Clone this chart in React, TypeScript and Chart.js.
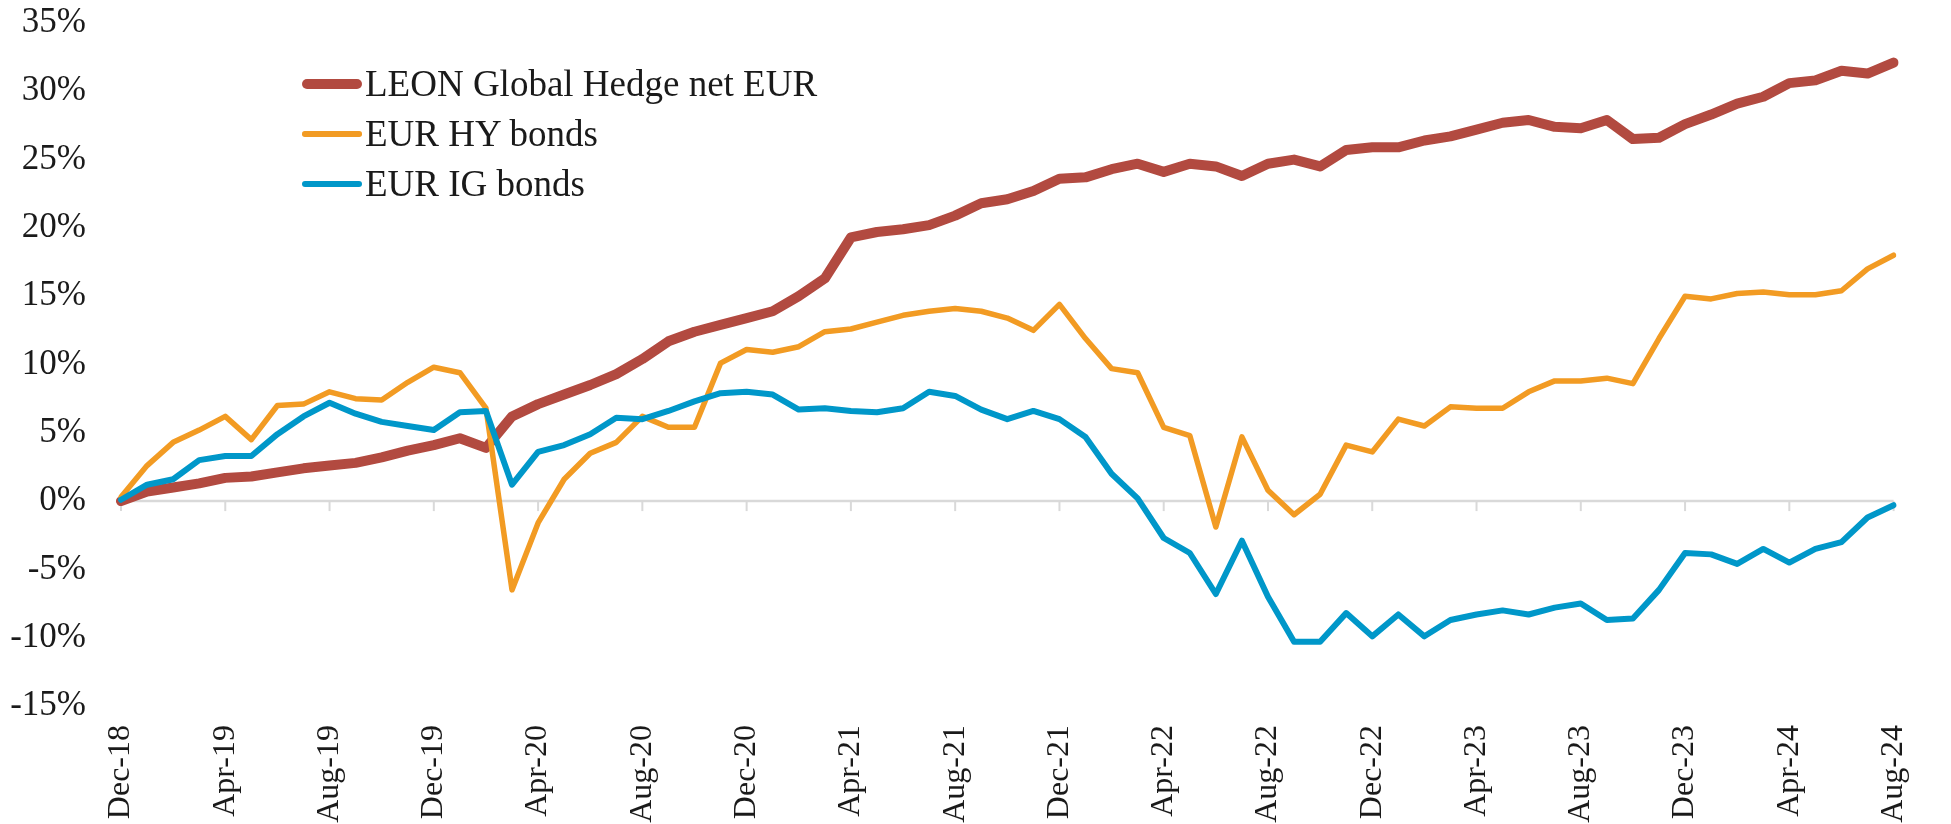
import React, { useEffect, useRef } from "react";
import { Chart, registerables } from "chart.js";

Chart.register(...registerables);

const months: string[] = [
  "Dec-18",
  "Jan-19", "Feb-19", "Mar-19", "Apr-19", "May-19", "Jun-19", "Jul-19", "Aug-19", "Sep-19", "Oct-19", "Nov-19", "Dec-19",
  "Jan-20", "Feb-20", "Mar-20", "Apr-20", "May-20", "Jun-20", "Jul-20", "Aug-20", "Sep-20", "Oct-20", "Nov-20", "Dec-20",
  "Jan-21", "Feb-21", "Mar-21", "Apr-21", "May-21", "Jun-21", "Jul-21", "Aug-21", "Sep-21", "Oct-21", "Nov-21", "Dec-21",
  "Jan-22", "Feb-22", "Mar-22", "Apr-22", "May-22", "Jun-22", "Jul-22", "Aug-22", "Sep-22", "Oct-22", "Nov-22", "Dec-22",
  "Jan-23", "Feb-23", "Mar-23", "Apr-23", "May-23", "Jun-23", "Jul-23", "Aug-23", "Sep-23", "Oct-23", "Nov-23", "Dec-23",
  "Jan-24", "Feb-24", "Mar-24", "Apr-24", "May-24", "Jun-24", "Jul-24", "Aug-24",
];

const leonGlobalHedge: number[] = [
  0.0, 0.7, 1.0, 1.3, 1.7, 1.8, 2.1, 2.4, 2.6, 2.8,
  3.2, 3.7, 4.1, 4.6, 3.9, 6.2, 7.1, 7.8, 8.5, 9.3,
  10.4, 11.7, 12.4, 12.9, 13.4, 13.9, 15.0, 16.3, 19.3, 19.7,
  19.9, 20.2, 20.9, 21.8, 22.1, 22.7, 23.6, 23.7, 24.3, 24.7,
  24.1, 24.7, 24.5, 23.8, 24.7, 25.0, 24.5, 25.7, 25.9, 25.9,
  26.4, 26.7, 27.2, 27.7, 27.9, 27.4, 27.3, 27.9, 26.5, 26.6,
  27.6, 28.3, 29.1, 29.6, 30.6, 30.8, 31.5, 31.3, 32.1,
];

const eurHyBonds: number[] = [
  0.3, 2.6, 4.3, 5.2, 6.2, 4.5, 7.0, 7.1, 8.0, 7.5,
  7.4, 8.7, 9.8, 9.4, 6.8, -6.5, -1.6, 1.6, 3.5, 4.3,
  6.2, 5.4, 5.4, 10.1, 11.1, 10.9, 11.3, 12.4, 12.6, 13.1,
  13.6, 13.9, 14.1, 13.9, 13.4, 12.5, 14.4, 11.9, 9.7, 9.4,
  5.4, 4.8, -1.9, 4.7, 0.8, -1.0, 0.5, 4.1, 3.6, 6.0,
  5.5, 6.9, 6.8, 6.8, 8.0, 8.8, 8.8, 9.0, 8.6, 11.9,
  15.0, 14.8, 15.2, 15.3, 15.1, 15.1, 15.4, 17.0, 18.0,
];

const eurIgBonds: number[] = [
  0.1, 1.2, 1.6, 3.0, 3.3, 3.3, 4.9, 6.2, 7.2, 6.4,
  5.8, 5.5, 5.2, 6.5, 6.6, 1.2, 3.6, 4.1, 4.9, 6.1,
  6.0, 6.6, 7.3, 7.9, 8.0, 7.8, 6.7, 6.8, 6.6, 6.5,
  6.8, 8.0, 7.7, 6.7, 6.0, 6.6, 6.0, 4.7, 2.0, 0.2,
  -2.7, -3.8, -6.8, -2.9, -7.0, -10.3, -10.3, -8.2, -9.9, -8.3,
  -9.9, -8.7, -8.3, -8.0, -8.3, -7.8, -7.5, -8.7, -8.6, -6.5,
  -3.8, -3.9, -4.6, -3.5, -4.5, -3.5, -3.0, -1.2, -0.3,
];

const seriesNames: string[] = ["LEON Global Hedge net EUR", "EUR HY bonds", "EUR IG bonds"];
const seriesColors: string[] = ["#B24A40", "#F29B23", "#0097C9"];
const seriesWidths: number[] = [10, 5.5, 6];

const yMin = -15;
const yMax = 35;
const yStep = 5;
const labelEvery = 4;

const FONT = "'Liberation Serif', 'Times New Roman', serif";
const W = 1951;
const H = 824;

const zeroAxisPlugin = {
  id: "zeroAxis",
  beforeDatasetsDraw(chart: any) {
    const { ctx, chartArea, scales } = chart;
    const y0 = scales.y.getPixelForValue(0);
    ctx.save();
    ctx.strokeStyle = "#d9d9d9";
    ctx.lineWidth = 2.5;
    ctx.beginPath();
    ctx.moveTo(chartArea.left, y0);
    ctx.lineTo(chartArea.right, y0);
    ctx.stroke();
    ctx.lineWidth = 2;
    for (let i = 0; i < months.length; i += labelEvery) {
      const x = scales.x.getPixelForValue(i);
      ctx.beginPath();
      ctx.moveTo(x, y0);
      ctx.lineTo(x, y0 + 10);
      ctx.stroke();
    }
    ctx.restore();
  },
};

export default function App() {
  const canvasRef = useRef<HTMLCanvasElement | null>(null);

  useEffect(() => {
    document.body.style.margin = "0";
    const canvas = canvasRef.current;
    if (!canvas) return;
    const values = [leonGlobalHedge, eurHyBonds, eurIgBonds];
    const chart = new Chart(canvas, {
      type: "line",
      data: {
        labels: months,
        datasets: values.map((v, i) => ({
          label: seriesNames[i],
          data: v,
          borderColor: seriesColors[i],
          backgroundColor: seriesColors[i],
          borderWidth: seriesWidths[i],
          pointRadius: 0,
          pointHoverRadius: 0,
          tension: 0,
          borderJoinStyle: "round" as const,
          borderCapStyle: "round" as const,
          fill: false,
          order: 2 - i,
        })),
      },
      options: {
        responsive: false,
        animation: false,
        devicePixelRatio: 1,
        layout: { padding: { top: 23, right: 23, left: 0, bottom: 0 } },
        plugins: {
          legend: { display: false },
          tooltip: { enabled: false },
          title: { display: false },
        },
        scales: {
          x: {
            type: "category",
            position: "bottom",
            offset: false,
            grid: { display: false, drawTicks: false },
            border: { display: false },
            ticks: {
              autoSkip: false,
              minRotation: 90,
              maxRotation: 90,
              padding: 19,
              color: "#1a1a1a",
              font: { family: FONT, size: 32 },
              callback: (_v: any, index: number) => (index % labelEvery === 0 ? months[index] : ""),
            },
            afterFit: (scale: any) => {
              scale.height = 118;
            },
          },
          y: {
            type: "linear",
            position: "left",
            min: yMin,
            max: yMax,
            grid: { display: false, drawTicks: false },
            border: { display: false },
            ticks: {
              stepSize: yStep,
              padding: 35,
              color: "#1a1a1a",
              font: { family: FONT, size: 35 },
              callback: (v: any) => `${v}%`,
            },
            afterFit: (scale: any) => {
              scale.width = 121;
              scale.paddingTop = 0;
              scale.paddingBottom = 0;
            },
          },
        },
      } as any,
      plugins: [zeroAxisPlugin],
    });
    return () => chart.destroy();
  }, []);

  const legendTop = 59;
  const rowH = 50;

  return (
    <div style={{ position: "relative", width: W, height: H, background: "#ffffff", overflow: "hidden" }}>
      <canvas ref={canvasRef} width={W} height={H} style={{ width: W, height: H, display: "block" }} />
      <div style={{ position: "absolute", left: 302, top: legendTop }}>
        {seriesNames.map((name, i) => (
          <div key={name} style={{ display: "flex", alignItems: "center", height: rowH }}>
            <div
              style={{
                width: 60,
                height: seriesWidths[i],
                borderRadius: seriesWidths[i] / 2,
                background: seriesColors[i],
                marginRight: 3,
              }}
            />
            <span
              style={{
                fontFamily: FONT,
                fontSize: 37,
                lineHeight: `${rowH}px`,
                color: "#1a1a1a",
                whiteSpace: "nowrap",
              }}
            >
              {name}
            </span>
          </div>
        ))}
      </div>
    </div>
  );
}
